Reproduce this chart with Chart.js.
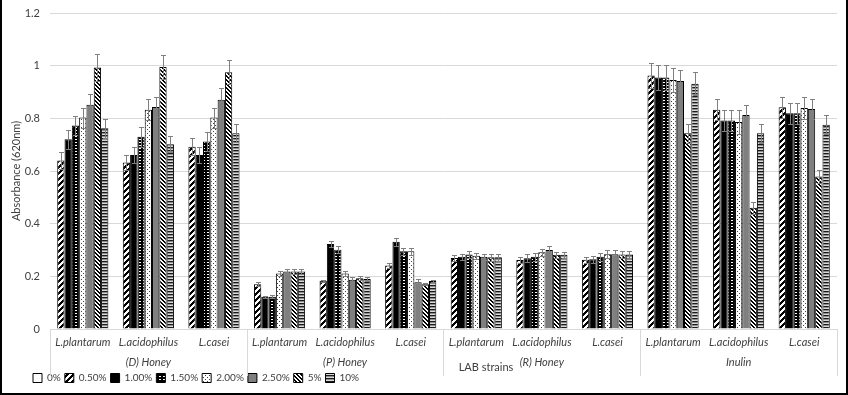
<!DOCTYPE html>
<html>
<head>
<meta charset="utf-8">
<script src="https://cdn.jsdelivr.net/npm/chart.js@4.4.0/dist/chart.umd.min.js"></script>
<style>
  html, body { margin: 0; padding: 0; background: #fff; }
  #wrap { width: 848px; height: 395px; box-sizing: border-box; border: 2px solid #000; border-top: none; }
  canvas { display: block; }
</style>
</head>
<body>
<div id="wrap"><canvas id="chart" width="844" height="393"></canvas></div>
<script>
// categories
const strains = ['L.plantarum', 'L.acidophilus', 'L.casei',
                 'L.plantarum', 'L.acidophilus', 'L.casei',
                 'L.plantarum', 'L.acidophilus', 'L.casei',
                 'L.plantarum', 'L.acidophilus', 'L.casei'];
const groups = ['(D) Honey', '(P) Honey', '(R) Honey', 'Inulin'];
const xTitle = 'LAB strains';
const yTitle = 'Absorbance (620nm)';
const seriesNames = ['0%', '0.50%', '1.00%', '1.50%', '2.00%', '2.50%', '5%', '10%'];

// means (0% has no bars in the figure)
const v000 = [null, null, null, null, null, null, null, null, null, null, null, null];
const v050 = [0.64, 0.632, 0.692, 0.170, 0.183, 0.241, 0.270, 0.262, 0.263, 0.963, 0.833, 0.842];
const v100 = [0.721, 0.661, 0.661, 0.122, 0.323, 0.331, 0.274, 0.269, 0.265, 0.955, 0.792, 0.819];
const v150 = [0.773, 0.730, 0.712, 0.122, 0.301, 0.295, 0.283, 0.274, 0.274, 0.955, 0.792, 0.819];
const v200 = [0.803, 0.833, 0.803, 0.211, 0.211, 0.295, 0.278, 0.291, 0.284, 0.946, 0.786, 0.839];
const v250 = [0.852, 0.843, 0.871, 0.218, 0.187, 0.178, 0.274, 0.300, 0.284, 0.942, 0.813, 0.835];
const v5 = [0.993, 0.995, 0.975, 0.218, 0.193, 0.170, 0.272, 0.282, 0.283, 0.743, 0.460, 0.579];
const v10 = [0.762, 0.702, 0.743, 0.218, 0.190, 0.182, 0.272, 0.282, 0.283, 0.931, 0.743, 0.776];

// error bars (+/-)
const e050 = [0.032, 0.029, 0.033, 0.008, 0.004, 0.010, 0.012, 0.012, 0.012, 0.046, 0.041, 0.039];
const e100 = [0.036, 0.029, 0.029, 0.005, 0.011, 0.015, 0.012, 0.014, 0.014, 0.046, 0.039, 0.041];
const e150 = [0.037, 0.037, 0.036, 0.006, 0.013, 0.013, 0.012, 0.014, 0.014, 0.046, 0.039, 0.041];
const e200 = [0.038, 0.041, 0.038, 0.010, 0.008, 0.013, 0.012, 0.014, 0.015, 0.046, 0.046, 0.041];
const e250 = [0.042, 0.038, 0.044, 0.010, 0.011, 0.011, 0.012, 0.014, 0.015, 0.042, 0.039, 0.039];
const e5 = [0.050, 0.047, 0.046, 0.010, 0.008, 0.004, 0.012, 0.012, 0.012, 0.037, 0.022, 0.023];
const e10 = [0.035, 0.030, 0.034, 0.010, 0.009, 0.005, 0.012, 0.012, 0.012, 0.044, 0.036, 0.037];

const ctx = document.getElementById('chart').getContext('2d');

// small pixel tiles for the black & white fills
function tile(w, h, pix) {
    const c = document.createElement('canvas');
    c.width = w; c.height = h;
    const g = c.getContext('2d');
    for (let j = 0; j < h; j++) {
        for (let i = 0; i < w; i++) {
            g.fillStyle = pix(i, j);
            g.fillRect(i, j, 1, 1);
        }
    }
    return ctx.createPattern(c, 'repeat');
}

const fills = [
    '#ffffff',
    tile(6, 6, (i, j) => ((i + j) % 6 < 3 ? '#000' : '#fff')),
    '#000000',
    tile(4, 3, (i, j) => (j === 1 && (i === 1 || i === 2) ? '#fff' : '#000')),
    tile(4, 4, (i, j) => ((i === 1 && j === 1) || (i === 3 && j === 3) ? '#404040' : '#fff')),
    '#7f7f7f',
    tile(4, 4, (i, j) => ((i - j + 4) % 4 < 2 ? '#000' : '#fff')),
    tile(1, 3, (i, j) => ['#1a1a1a', '#8c8c8c', '#d9d9d9'][j])
];

const values = [v000, v050, v100, v150, v200, v250, v5, v10];
const errors = [null, e050, e100, e150, e200, e250, e5, e10];

const datasets = seriesNames.map((name, k) => ({
    label: name,
    data: values[k],
    errors: errors[k],
    backgroundColor: fills[k],
    borderColor: '#000',
    borderWidth: 1
}));

const errorBars = {
    id: 'errorBars',
    afterDatasetsDraw(chart) {
        const c = chart.ctx, y = chart.scales.y;
        c.save();
        c.strokeStyle = '#808080';
        c.lineWidth = 1;
        chart.data.datasets.forEach((ds, i) => {
            if (!ds.errors) return;
            chart.getDatasetMeta(i).data.forEach((bar, j) => {
                const v = ds.data[j], e = ds.errors[j];
                if (v == null) return;
                const top = Math.round(y.getPixelForValue(v + e)) + 0.5;
                const bot = Math.round(y.getPixelForValue(v - e)) + 0.5;
                const x = Math.round(bar.x) + 0.5;
                c.beginPath();
                c.moveTo(x, top); c.lineTo(x, bot);
                c.moveTo(x - 2.5, top); c.lineTo(x + 2.5, top);
                c.moveTo(x - 2.5, bot); c.lineTo(x + 2.5, bot);
                c.stroke();
            });
        });
        c.restore();
    }
};

// group separators under the axis and the axis title
const groupLines = {
    id: 'groupLines',
    afterDraw(chart) {
        const x = chart.scales.x, area = chart.chartArea, c = chart.ctx;
        const step = x.getPixelForValue(1) - x.getPixelForValue(0);
        c.save();
        c.strokeStyle = '#d9d9d9';
        c.lineWidth = 1;
        for (let k = 0; k <= strains.length; k += 3) {
            const px = Math.round(x.getPixelForValue(k) - step / 2) + 0.5;
            c.beginPath();
            c.moveTo(px, area.bottom);
            c.lineTo(px, area.bottom + 47);
            c.stroke();
        }
        c.fillStyle = '#404040';
        c.font = '11px Lato';
        c.textAlign = 'center';
        c.textBaseline = 'middle';
        c.fillText(xTitle, 484, area.bottom + 38);
        c.restore();
    }
};

const legendShift = {
    id: 'legendShift',
    afterLayout(chart) {
        chart.legend.left += 27;
        chart.legend.right += 27;
    }
};

const tickFont = { family: 'Lato', size: 11 };

new Chart(ctx, {
    type: 'bar',
    data: { labels: strains, datasets: datasets },
    options: {
        responsive: false,
        animation: false,
        layout: { padding: { top: 13, right: 9, bottom: 0, left: 0 } },
        datasets: {
            bar: { categoryPercentage: 0.78, barPercentage: 1, skipNull: true }
        },
        scales: {
            x: {
                grid: { display: false, drawTicks: false },
                border: { display: false },
                ticks: { font: { family: 'Lato', size: 11, style: 'italic' }, color: '#404040', padding: 7, maxRotation: 0, autoSkip: false },
                afterFit: s => { s.height = 22; }
            },
            x2: {
                type: 'category',
                labels: groups,
                position: 'bottom',
                offset: true,
                grid: { display: false, drawTicks: false },
                border: { display: false },
                ticks: { font: { family: 'Lato', size: 11, style: 'italic' }, color: '#404040', padding: 5 },
                afterFit: s => { s.height = 18; }
            },
            y: {
                min: 0,
                max: 1.2,
                ticks: { stepSize: 0.2, color: '#404040', font: tickFont, padding: 10, callback: v => +v.toFixed(1) },
                grid: { color: '#d9d9d9', drawTicks: false },
                border: { display: false },
                title: { display: true, text: yTitle, color: '#404040', font: tickFont, padding: { top: 8, bottom: 0 } },
                afterFit: s => { s.width = 48; s.paddingTop = 0; s.paddingBottom = 0; }
            }
        },
        plugins: {
            legend: {
                position: 'bottom',
                align: 'start',
                labels: { boxWidth: 9, boxHeight: 9, padding: 4, color: '#404040', font: { family: 'Lato', size: 10 } }
            },
            tooltip: { enabled: false }
        }
    },
    plugins: [errorBars, groupLines, legendShift]
});
</script>
</body>
</html>
